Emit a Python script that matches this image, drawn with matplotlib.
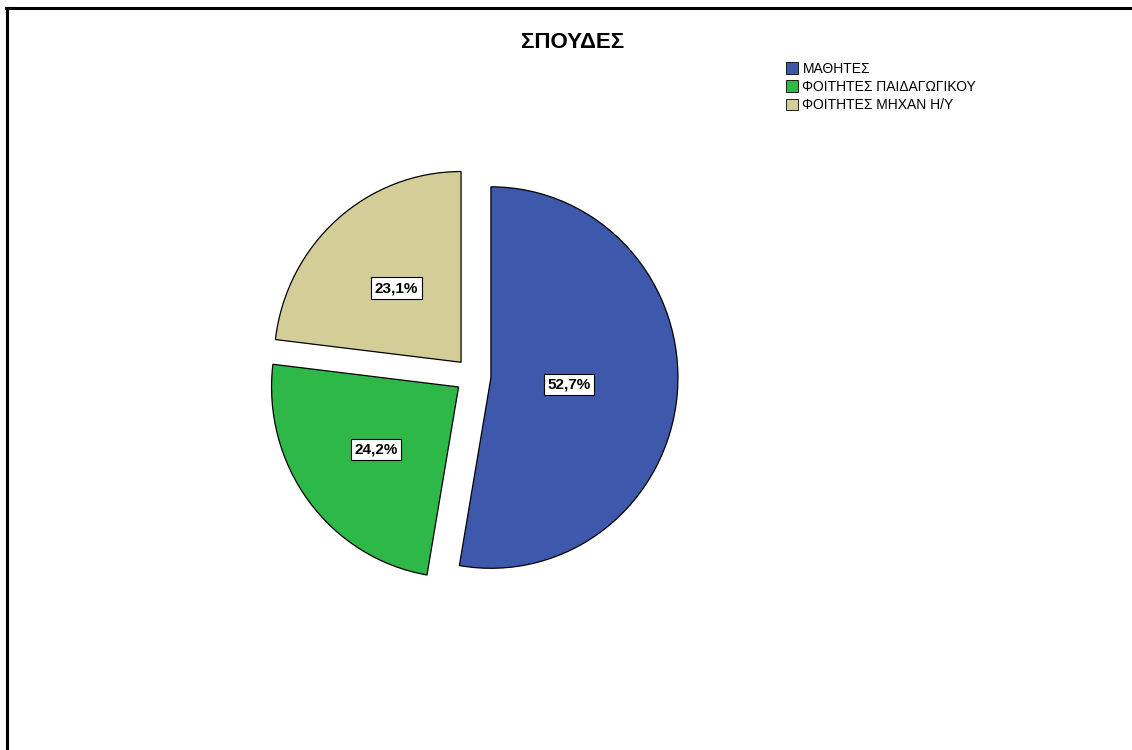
import matplotlib
matplotlib.use("Agg")
import matplotlib.pyplot as plt
from matplotlib.patches import Patch
from matplotlib.lines import Line2D
import numpy as np

# Data
categories = ["ΜΑΘΗΤΕΣ", "ΦΟΙΤΗΤΕΣ ΠΑΙΔΑΓΩΓΙΚΟΥ", "ΦΟΙΤΗΤΕΣ ΜΗΧΑΝ Η/Υ"]
percentages = [52.7, 24.2, 23.1]
title_text = "ΣΠΟΥΔΕΣ"

# Styling
colors = ["#3e58ac", "#2eb848", "#d3ce98"]
label_radius = [0.42, 0.55, 0.52]   # label distance from slice apex, as fraction of radius
plt.rcParams["font.family"] = ["Liberation Sans", "DejaVu Sans"]

W, H = 1132, 750
fig = plt.figure(figsize=(W / 100, H / 100), dpi=100)
fig.patch.set_facecolor("white")

# Axes in (roughly) pixel units covering the whole canvas; the pie is
# stretched slightly in the vertical direction.
yscale = 1.02
ax = fig.add_axes([0, 0, 1, 1])

center = (473, (H - 376) / yscale)
radius = 187
explode_px = 18   # offset of every slice from the centre

wedges, _ = ax.pie(
    percentages,
    colors=colors,
    startangle=90,
    counterclock=False,
    center=center,
    radius=radius,
    explode=[explode_px] * len(percentages),
    wedgeprops=dict(edgecolor="black", linewidth=0.9),
    normalize=True,
)
ax.set_aspect("auto")
ax.set_xlim(0, W)
ax.set_ylim(0, H / yscale)
ax.axis("off")

for w, v, fr in zip(wedges, percentages, label_radius):
    ang = np.deg2rad((w.theta1 + w.theta2) / 2)
    cx, cy = w.center
    x = cx + fr * radius * np.cos(ang)
    y = cy + fr * radius * np.sin(ang)
    ax.text(x, y, f"{v:.1f}".replace(".", ",") + "%",
            ha="center", va="center", fontsize=11, fontweight="bold",
            bbox=dict(boxstyle="square,pad=0.24", facecolor="white",
                      edgecolor="black", linewidth=0.8))

# Title
fig.text(573 / W, 1 - 42 / H, title_text, ha="center", va="center",
         fontsize=16, fontweight="bold")

# Legend
handles = [Patch(facecolor=c, edgecolor="black", linewidth=0.6) for c in colors]
fig.legend(handles, categories, loc="upper left",
           bbox_to_anchor=(783 / W, 1 - 59 / H), frameon=False,
           fontsize=10, handlelength=0.9, handleheight=0.9,
           handletextpad=0.3, labelspacing=0.3, borderpad=0.2,
           borderaxespad=0)

# Outer frame (left and top edges)
fig.add_artist(Line2D([6.5 / W, 6.5 / W], [0, 1 - 8 / H],
                      transform=fig.transFigure, color="black", linewidth=2.2))
fig.add_artist(Line2D([5.5 / W, 1], [1 - 8 / H, 1 - 8 / H],
                      transform=fig.transFigure, color="black", linewidth=2.2))

fig.savefig("out.png", dpi=100)
